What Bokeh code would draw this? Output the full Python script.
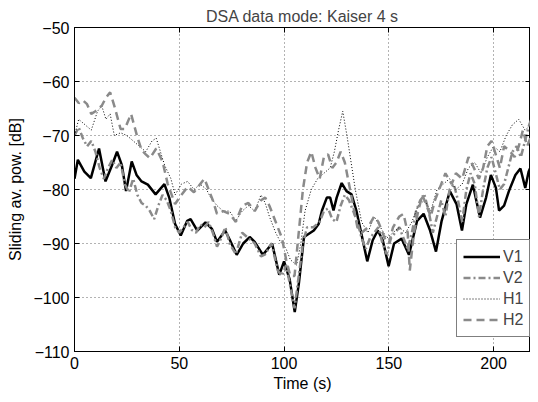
from bokeh.plotting import figure
from bokeh.models import FixedTicker, LinearAxis, Legend, LegendItem, Range1d
from bokeh.embed import file_html
from bokeh.resources import INLINE

# ---- data ----
t_v1 = [0, 1.6, 4.7, 7.8, 11.7, 14.8, 17.9, 20.3, 22.6, 24.6, 27.3, 29.6, 32, 35, 38.7, 42.9, 45.2, 48,
        50.7, 53.8, 55.4, 58.6, 62.5, 65.6, 68, 71.9, 74.2, 77.4, 80.5, 83.6, 86, 89.9, 94.3, 97.7, 100,
        102.7, 105.1, 107.1, 109.5, 114.2, 116.5, 118.1, 120.4, 122, 123.6, 125.1, 127.5, 129.8, 132.2,
        134.5, 136.9, 139.7, 142.3, 144.7, 147.1, 149.9, 152.5, 156.1, 159.6, 163.5, 166.6, 169.7, 172.5,
        175.2, 179.1, 182.3, 184.9, 187, 190.1, 193.5, 196.4, 198.7, 201.1, 202.6, 205, 207.3, 210.4,
        212.8, 215.1, 216.7, 218]
v1 = [-78, -74.5, -76.7, -77.9, -72.4, -78.5, -75.5, -73.0, -75.5, -80.3, -74.8, -77.3, -78.5, -79.1, -80.9,
      -79.0, -81.5, -86.4, -88.5, -85.8, -85.5, -87.6, -86.1, -87.3, -89.7, -87.6, -89.4, -92.1, -90, -88.8,
      -89.7, -92.1, -90, -95.8, -93.3, -96.7, -102.7, -97.3, -88.8, -87.6, -86.4, -83.9, -81.5, -81.5, -83.9,
      -81.5, -78.8, -80.3, -80.9, -83.9, -88.2, -93.3, -89.4, -87.6, -89.4, -94.2, -90, -89.1, -92.1, -85.8,
      -84.5, -87.6, -91.5, -85.8, -80.3, -82.7, -87.6, -82.7, -79.1, -85.2, -81.5, -77.3, -79.7, -83.9, -83,
      -80.3, -77.3, -76.1, -79.7, -76.7, -75.5]

t_v2 = [0, 2, 4, 6, 8, 10, 12, 14, 16, 18, 20, 22, 24, 26, 28, 30, 32, 34, 36, 38, 40, 42, 44, 46, 48, 50,
        52, 54, 56, 58, 60, 62, 64, 66, 68, 70, 72, 74, 77, 80, 83, 86, 89, 91, 94, 97, 99, 101, 103, 105,
        107, 109, 111, 114, 117, 119, 121, 123, 125, 127, 129, 131, 133, 135, 137, 139, 141, 143, 145, 147,
        149, 151, 153, 155, 157, 159, 161, 163, 165, 167, 169, 171, 173, 175, 177, 179, 181, 183, 185, 187,
        189, 191, 193, 195, 197, 199, 201, 203, 205, 207, 209, 211, 213, 215, 217, 218]
v2 = [-70, -68.5, -70.5, -72, -71, -73, -76, -78, -76, -74.5, -76, -75, -79, -80.5, -78, -81, -82.5, -83,
      -84, -85.5, -83, -81, -82, -84, -87, -88, -87, -86, -87.5, -88, -86.5, -87, -86, -88, -90.6, -89, -87,
      -90, -92, -88, -89, -90, -92.4, -92, -90, -95, -96, -94, -98, -102, -96, -90, -87, -87, -86, -84,
      -83.5, -85.5, -86, -83, -81, -82, -84, -86, -89, -91, -89, -88, -87, -90, -92, -89, -88, -87, -89,
      -91, -88, -84, -82, -81, -84, -88, -85, -82, -85, -80, -79, -82, -86, -80, -77, -79, -85, -80, -76,
      -74, -77, -80, -79, -76, -73, -72, -74, -71, -68, -67]

t_h1 = [0, 2, 5, 8, 11, 13, 15, 17, 19, 22, 25, 28, 31, 34, 37, 39, 41, 43, 46, 48, 51, 54, 57, 60, 63,
        65, 68, 71, 74, 77, 80, 83, 86, 89, 91, 93, 96, 98, 101, 103, 106, 108, 110, 113, 116, 119, 122,
        124, 126, 128, 130, 132, 134, 137, 140, 143, 146, 149, 152, 155, 158, 161, 164, 167, 170, 173, 176,
        179, 182, 185, 188, 191, 194, 197, 200, 203, 206, 209, 212, 215, 218]
h1 = [-70, -67, -68, -69, -65.5, -64.5, -67, -66, -70, -69.5, -70, -71, -72, -73, -71, -70.5, -73, -75.5,
      -78, -81, -79, -78.5, -80, -79, -80, -81.5, -83, -84, -84, -85.8, -84, -83, -84, -81, -82.5, -85, -88,
      -89.5, -91, -93, -94, -90, -84, -80, -78, -77, -76, -73, -69, -65.5, -70, -75, -80, -86, -88, -85,
      -87, -89, -88, -87, -88, -86, -83, -82, -84, -80, -79, -78, -80, -79, -76, -75, -77, -74, -72, -73,
      -70, -68, -67, -69, -68]

t_h2 = [0, 2, 4, 6, 8, 10, 13, 15, 17, 19, 22, 24, 27, 30, 32, 34, 36, 39, 42, 44.5, 48, 51, 54, 57, 60,
        62, 64, 66, 68, 71, 74, 77, 80, 83, 86, 89, 91, 93, 95, 97, 99, 101, 103, 105, 107, 109, 111, 113,
        115, 117, 119, 121, 123, 125, 127, 129, 131, 133, 135, 137, 140, 143, 145, 148, 150, 152, 155, 157,
        159, 160, 162, 164, 166, 168, 170, 172, 175, 177, 180, 182, 185, 188, 190, 193, 195, 197, 199, 201,
        203, 205, 208, 210, 212, 214, 216, 218]
h2 = [-63, -64, -63.5, -64.2, -66, -65.5, -64.5, -63, -62, -64.5, -68.8, -68.8, -66, -70.3, -72.7, -73.5,
      -74.2, -72.4, -74.8, -79, -82.7, -81, -79.5, -80.5, -79, -78, -80, -82, -84.5, -84, -84.5, -86, -83,
      -82.5, -84, -82, -81.5, -83, -85, -87, -89, -93, -96, -96, -88, -80, -75, -73, -76, -78, -74, -73.5,
      -76, -75, -73, -75, -79, -83, -87, -88, -87, -85, -86, -89, -90, -87, -85, -84.5, -88, -95, -88, -84,
      -81, -83, -85, -82, -79, -77, -79, -77, -78, -74, -75.5, -78, -76, -72, -71, -73.5, -76, -72, -73,
      -74, -72, -69, -72, -70]

series_names = ["V1", "V2", "H1", "H2"]
x_ticks = [0, 50, 100, 150, 200]
y_ticks = [-110, -100, -90, -80, -70, -60, -50]
y_tick_labels = ["\u2212110", "\u2212100", "\u221290", "\u221280", "\u221270", "\u221260", "\u221250"]

FONT = "Liberation Sans"
GRAY = "#8a8a8a"

p = figure(width=530, height=394, output_backend="svg", toolbar_location=None,
           x_range=Range1d(0, 217.6), y_range=Range1d(-110, -50),
           min_border_left=74, min_border_right=0, min_border_top=27, min_border_bottom=38,
           title="DSA data mode: Kaiser 4 s")
p.title.align = "center"
p.title.text_font = FONT
p.title.text_font_size = "16px"
p.title.text_font_style = "normal"
p.title.offset = 0
p.title.standoff = 5

p.background_fill_color = "white"
p.border_fill_color = "white"
p.outline_line_color = "black"
p.outline_line_width = 1

for ax in p.xaxis + p.yaxis:
    ax.major_tick_in = 5
    ax.major_tick_out = 0
    ax.minor_tick_in = 0
    ax.minor_tick_out = 0
    ax.axis_line_color = "black"
    ax.major_tick_line_color = "black"
    ax.major_label_text_font = FONT
    ax.major_label_text_font_size = "16px"
    ax.major_label_text_color = "black"
    ax.axis_label_text_font = FONT
    ax.axis_label_text_font_size = "16px"
    ax.axis_label_text_font_style = "normal"
    ax.axis_label_text_color = "black"

p.xaxis.ticker = FixedTicker(ticks=x_ticks)
p.yaxis.ticker = FixedTicker(ticks=y_ticks)
p.yaxis.major_label_overrides = {t: l for t, l in zip(y_ticks, y_tick_labels)}
p.xaxis.axis_label = "Time (s)"
p.yaxis.axis_label = "Sliding av. pow. [dB]"
p.xaxis.major_label_standoff = 5
p.yaxis.major_label_standoff = 5
p.xaxis.axis_label_standoff = 3
p.yaxis.axis_label_standoff = 6

# box ticks on top and right (tick marks only, no labels drawn)
top = LinearAxis(ticker=FixedTicker(ticks=x_ticks), major_tick_in=5, major_tick_out=0,
                 minor_tick_in=0, minor_tick_out=0, major_label_text_font_size="1px",
                 major_label_text_color=None, major_label_standoff=0)
right = LinearAxis(ticker=FixedTicker(ticks=y_ticks), major_tick_in=5, major_tick_out=0,
                   minor_tick_in=0, minor_tick_out=0, major_label_text_font_size="1px",
                   major_label_text_color=None, major_label_standoff=0)
p.add_layout(top, "above")
p.add_layout(right, "right")

p.xgrid.ticker = FixedTicker(ticks=x_ticks)
p.ygrid.ticker = FixedTicker(ticks=y_ticks)
for g in (p.xgrid, p.ygrid):
    g.grid_line_color = "#666666"
    g.grid_line_dash = "1 3"
    g.grid_line_width = 1

r_v1 = p.line(t_v1, v1, line_color="black", line_width=2.5)
r_v2 = p.line(t_v2, v2, line_color=GRAY, line_width=2.5, line_dash="7 3 2 3")
r_h1 = p.line(t_h1, h1, line_color="black", line_width=1, line_dash="1 2")
r_h2 = p.line(t_h2, h2, line_color=GRAY, line_width=2.5, line_dash="8 5")

legend = Legend(items=[LegendItem(label=n, renderers=[r]) for n, r in
                       zip(series_names, [r_v1, r_v2, r_h1, r_h2])],
                location=(382, 14))
legend.label_text_font = FONT
legend.label_text_font_size = "16px"
legend.glyph_width = 37
legend.glyph_height = 21
legend.label_height = 21
legend.label_standoff = 3
legend.spacing = 0
legend.padding = 6
legend.margin = 0
legend.border_line_color = "black"
legend.border_line_width = 1
legend.background_fill_alpha = 1
p.add_layout(legend, "center")

open("out.html", "w").write(file_html(p, INLINE))
